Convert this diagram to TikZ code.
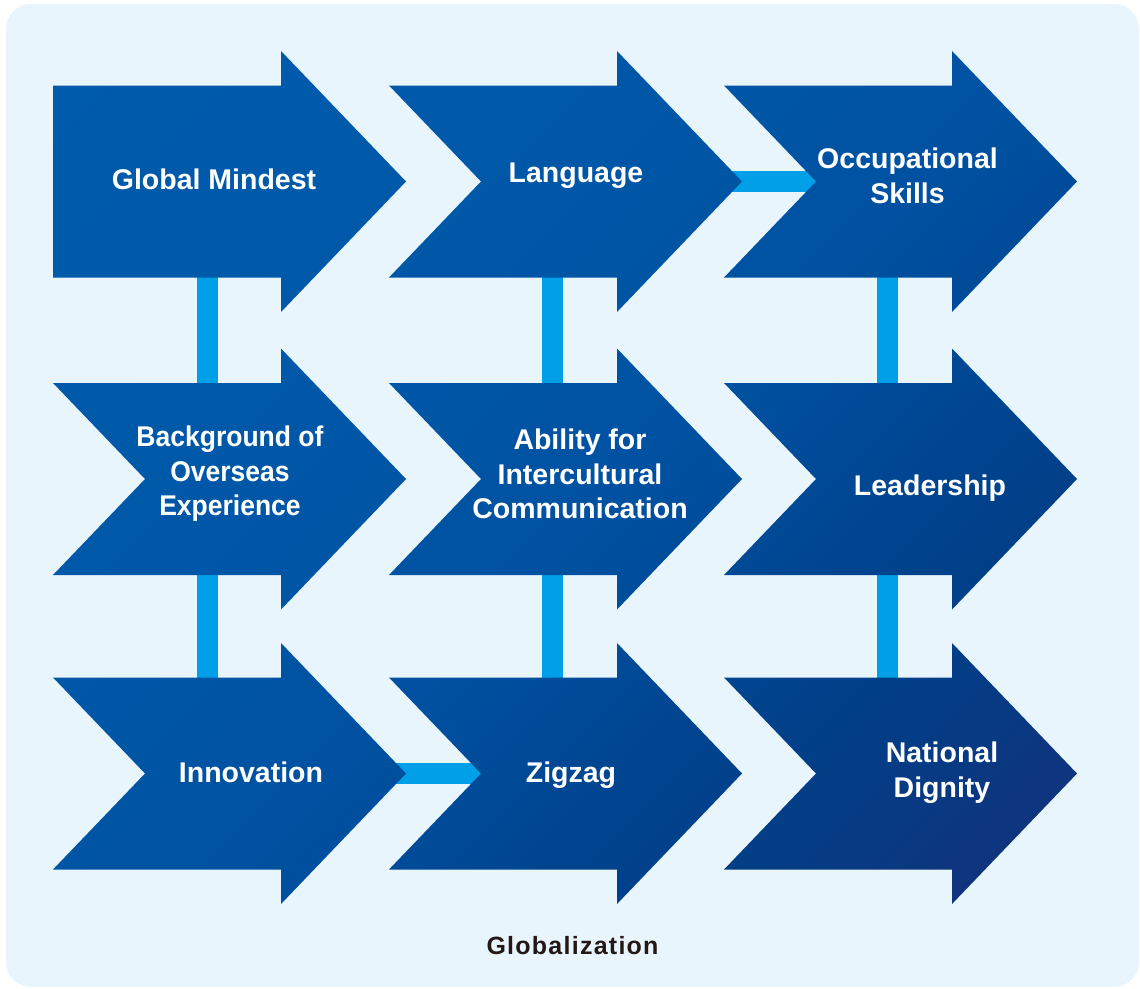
\documentclass[tikz,border=0pt]{standalone}
\usepackage{fontspec}
\setmainfont{Liberation Sans}
\definecolor{panel}{HTML}{E8F5FD}
\definecolor{linkblue}{HTML}{00A0E9}
\definecolor{titletext}{HTML}{231815}
\definecolor{gA}{HTML}{005BAC}
\definecolor{gB}{HTML}{0057A7}
\definecolor{gC}{HTML}{0050A0}
\definecolor{gD}{HTML}{00448F}
\definecolor{gE}{HTML}{033D86}
\definecolor{gF}{HTML}{15307A}
\pgfdeclarehorizontalshading{chevgrad}{100bp}{color(0bp)=(gA); color(15bp)=(gA); color(39bp)=(gB); color(54bp)=(gC); color(64bp)=(gD); color(72bp)=(gE); color(85bp)=(gF); color(100bp)=(gF)}
\begin{document}
\begin{tikzpicture}[x=1pt,y=1pt]
	\tikzset{chevtext/.style={text=white,font=\bfseries\fontsize{28.5}{34.5}\selectfont,align=center,inner sep=0pt,anchor=base},
		link/.style={draw=linkblue,line width=21pt},
		chev/.style={shading=chevgrad,shading angle=-45}}
	\useasboundingbox (0,0) rectangle (1140,-988);
	\fill[panel,rounded corners=25pt] (6,-4) rectangle (1139,-987);
	% left end of each arrow, at its middle
	\foreach \c/\x/\y in {a11/53/-181.5, a12/389/-181.5, a13/724/-181.5,
		a21/53/-479, a22/389/-479, a23/724/-479,
		a31/53/-773.5, a32/389/-773.5, a33/724/-773.5}
	\coordinate (\c) at (\x,\y);
	% links
	\draw[link] ([xshift=154.5pt]a11) -- ([xshift=154.5pt]a21);
	\draw[link] ([xshift=154.5pt]a21) -- ([xshift=154.5pt]a31);
	\foreach \t/\b in {a12/a22, a22/a32, a13/a23, a23/a33}
	\draw[link] ([xshift=163pt]\t) -- ([xshift=163pt]\b);
	\draw[link] ([xshift=340pt]a12) -- ([xshift=100pt]a13);
	\draw[link] ([xshift=340pt]a31) -- ([xshift=100pt]a32);
	% arrows
	\shade[chev] \foreach \c/\d in {a11/0, a12/92, a13/92, a21/92, a22/92, a23/92, a31/92, a32/92, a33/92}
	{([yshift=96pt]\c) -- ++(228,0) -- ++(0,34.5) -- ++(125,-130.5) -- ++(-125,-130.5) -- ++(0,34.5) -- ++(-228,0) -- ++(\d,96) -- cycle};
	% labels, at the baseline of the last line
	\node[chevtext] (mindset) at (214,-189) {Global Mindest};
	\node[chevtext] (lang) at (576,-182) {Language};
	\node[chevtext] (occ) at (907.5,-203) {Occupational\\Skills};
	\node[chevtext,xscale=0.93] (overseas) at (230,-515.5) {Background of\\Overseas\\Experience};
	\node[chevtext] (ability) at (580,-518.5) {Ability for\\Intercultural\\Communication};
	\node[chevtext] (leader) at (930,-495.5) {Leadership};
	\node[chevtext] (innov) at (251,-782) {Innovation};
	\node[chevtext] (zigzag) at (571,-782) {Zigzag};
	\node[chevtext] (dignity) at (942,-797) {National\\Dignity};
	\node[text=titletext,font=\bfseries\fontsize{25}{30}\selectfont\addfontfeature{LetterSpace=5},inner sep=0pt,anchor=base] (glob) at (572.5,-954) {Globalization};
\end{tikzpicture}
\end{document}
